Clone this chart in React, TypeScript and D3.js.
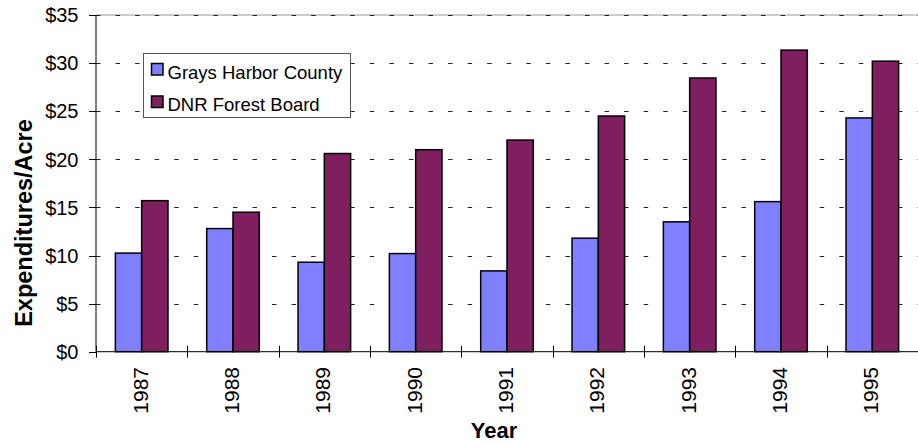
import React from "react";
import * as d3 from "d3";

const years = ["1987", "1988", "1989", "1990", "1991", "1992", "1993", "1994", "1995"];
const seriesNames = ["Grays Harbor County", "DNR Forest Board"];
const graysHarbor = [10.25, 12.8, 9.3, 10.2, 8.4, 11.8, 13.5, 15.6, 24.3];
const dnrForestBoard = [15.7, 14.5, 20.6, 21.0, 22.0, 24.5, 28.45, 31.35, 30.2];
const yTicks = [0, 5, 10, 15, 20, 25, 30, 35];
const colors = ["#8080FF", "#7F1F5F"];

const W = 918;
const H = 445;
const FONT = "Arial, 'Liberation Sans', sans-serif";

export default function App() {
  const left = 96, right = 918, top = 15, bottom = 351.7;
  const x = d3.scaleBand<string>().domain(years).range([left, right]).paddingInner(0).paddingOuter(0);
  const xs = d3.scaleBand<string>().domain(seriesNames).range([0, x.bandwidth()]).paddingInner(0).paddingOuter(0.736);
  const y = d3.scaleLinear().domain([0, 35]).range([bottom, top]);
  const data = [graysHarbor, dnrForestBoard];
  const boundaries = d3.range(years.length + 1).map((i) => left + i * x.step());

  return (
    <svg width={W} height={H} style={{ position: "absolute", left: 0, top: 0, background: "#fff" }} fontFamily={FONT}>
      <rect x={0} y={0} width={W} height={H} fill="#fff" />
      <line x1={left} x2={right} y1={y(35)} y2={y(35)} stroke="#999" strokeWidth={1} />
      {yTicks.filter((t) => t > 0).map((t) => (
        <line key={t} x1={left} x2={right} y1={Math.round(y(t)) + 0.5} y2={Math.round(y(t)) + 0.5}
          stroke="#222" strokeWidth={1} strokeDasharray="4.5 15.06" />
      ))}
      {data.map((vals, si) =>
        vals.map((v, i) => (
          <rect key={`${si}-${i}`}
            x={(x(years[i]) as number) + (xs(seriesNames[si]) as number)}
            y={y(v)}
            width={xs.bandwidth()}
            height={y(0) - y(v)}
            fill={colors[si]} stroke="#000" strokeWidth={1.5} />
        ))
      )}
      <line x1={left} x2={left} y1={y(35)} y2={y(0)} stroke="#000" strokeWidth={1} />
      {yTicks.map((t) => (
        <g key={t}>
          <line x1={left - 7} x2={left} y1={Math.round(y(t)) + 0.5} y2={Math.round(y(t)) + 0.5} stroke="#000" />
          <text x={78.5} y={y(t)} dy="0.36em" textAnchor="end" fontSize={20} fill="#000">{`$${t}`}</text>
        </g>
      ))}
      <line x1={left} x2={right} y1={y(0)} y2={y(0)} stroke="#000" strokeWidth={1} />
      {boundaries.map((b, i) => (
        <line key={i} x1={Math.round(b) + 0.5} x2={Math.round(b) + 0.5} y1={y(0) - 6} y2={y(0) + 6} stroke="#000" />
      ))}
      {years.map((yr) => {
        const cx = (x(yr) as number) + x.bandwidth() / 2 - 1.5;
        const ty = 367;
        return (
          <text key={yr} x={cx} y={ty} transform={`rotate(-90 ${cx} ${ty})`} textAnchor="end" dy="0.35em"
            fontSize={21} fill="#000">{yr}</text>
        );
      })}
      <text x={494} y={438} textAnchor="middle" fontSize={22} fontWeight="bold" fill="#000">Year</text>
      <text x={24} y={223} transform="rotate(-90 24 223)" textAnchor="middle" dy="0.35em" fontSize={23.5} fontWeight="bold" fill="#000">Expenditures/Acre</text>
      <rect x={143.5} y={53.5} width={207} height={64} fill="#fff" stroke="#555" strokeWidth={1} />
      {seriesNames.map((s, i) => (
        <g key={s}>
          <rect x={151.5} y={63.5 + i * 32.5} width={11.5} height={11.5} fill={colors[i]} stroke="#000" strokeWidth={1.5} />
          <text x={167.5} y={79 + i * 32} fontSize={18.5} fill="#000">{s}</text>
        </g>
      ))}
    </svg>
  );
}
